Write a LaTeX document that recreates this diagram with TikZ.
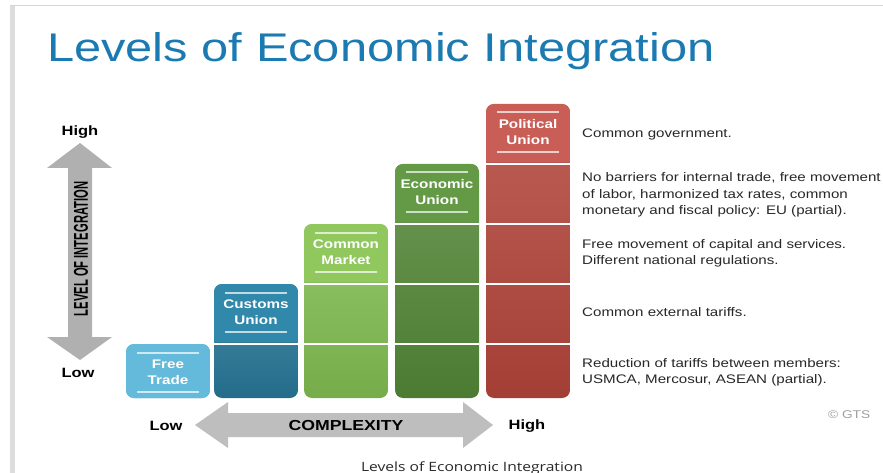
\documentclass[tikz,border=0pt]{standalone}
\usepackage{fontspec}
\setmainfont{Liberation Sans}
\newfontfamily\capfont{Open Sans}

\definecolor{titleblue}{RGB}{28,122,178}
\definecolor{frameline}{RGB}{184,226,232}
\definecolor{framebar}{RGB}{221,221,221}
\definecolor{arrowgray}{RGB}{176,176,176}
\definecolor{arrowgrayh}{RGB}{190,190,190}
\definecolor{textgray}{RGB}{40,40,40}
\definecolor{ftHead}{RGB}{100,186,218}
\definecolor{ftBody}{RGB}{90,176,210}
\definecolor{cuHead}{RGB}{48,136,170}
\definecolor{cuBody}{RGB}{38,118,150}
\definecolor{cmHead}{RGB}{144,200,94}
\definecolor{cmBody}{RGB}{128,188,80}
\definecolor{euHead}{RGB}{100,154,70}
\definecolor{euBody}{RGB}{82,134,54}
\definecolor{puHead}{RGB}{200,94,86}
\definecolor{puBody}{RGB}{178,68,58}

% horizontally widened lettering
\newcommand\hs[1]{\scalebox{1.22}[1]{#1}}

% one level bar: #1 name, #2 left x, #3 top y, #4 head colour, #5 body colour,
% #6 first label line, #7 second label line
\newcommand\levelbar[7]{%
  \begin{scope}
    \clip[rounded corners=8pt] (#2,#3) rectangle (#2+84,398);
    \shade[top color=#5!85!white,bottom color=#5!92!black]
      (#2,#3) rectangle (#2+84,398);
    \fill[#4] (#2,#3) rectangle (#2+84,#3+58);
    \foreach \yy in {164,224,284,344}{%
      \ifdim\yy pt>\dimexpr #3pt+10pt\relax
        \draw[white,line width=1.6pt] (#2,\yy) -- (#2+84,\yy);
      \fi}
  \end{scope}
  \draw[barrule] (#2+11,#3+8.5) -- (#2+73,#3+8.5);
  \draw[barrule] (#2+11,#3+48) -- (#2+73,#3+48);
  \node[bartext] (#1) at (#2+42,#3+28) {\hs{#6}\\\hs{#7}};
}

\begin{document}
\begin{tikzpicture}[x=1pt,y=-1pt,
  barrule/.style={white,opacity=.7,line width=2pt},
  bartext/.style={text=white,align=center,inner sep=0pt,
    font=\bfseries\fontsize{12.5}{16}\selectfont},
  axislabel/.style={text=black,inner sep=0pt,anchor=base,
    font=\bfseries\fontsize{13.5}{16}\selectfont},
  desc/.style={text=textgray,inner sep=0pt,anchor=base west,
    font=\fontsize{12.4}{16.3}\selectfont}]

\useasboundingbox (0,0) rectangle (883,473);
\fill[white] (0,0) rectangle (883,473);

% page frame
\fill[framebar] (10,6) rectangle (15,473);
\draw[frameline,line width=1pt] (10,6) -- (883,6);

% title
\node[anchor=base west,inner sep=0pt,text=titleblue,
  font=\fontsize{40}{44}\selectfont] (title) at (47,62)
  {\hs{Levels of Economic Integration}};

% vertical axis arrow
\fill[arrowgray] (80,143) -- (112,168) -- (92,168) -- (92,337) -- (112,337)
  -- (80,360) -- (47,337) -- (68,337) -- (68,168) -- (47,168) -- cycle;
\node[inner sep=0pt] (vlabel) at (81,249)
  {\rotatebox{90}{\scalebox{0.56}[1]{\fontsize{20}{20}\bfseries LEVEL OF INTEGRATION}}};
\node[axislabel] (vhigh) at (80,136) {\hs{High}};
\node[axislabel] (vlow) at (78,377) {\hs{Low}};

% horizontal axis arrow
\fill[arrowgrayh] (195,425) -- (228,402) -- (228,413) -- (463,413) -- (463,402)
  -- (493,425) -- (463,448) -- (463,437) -- (228,437) -- (228,448) -- cycle;
\node[axislabel] (hlow) at (166,430) {\hs{Low}};
\node[axislabel,font=\bfseries\fontsize{14.5}{16}\selectfont] (hmid) at (346,430)
  {\hs{COMPLEXITY}};
\node[axislabel] (hhigh) at (527,429) {\hs{High}};

% level bars
\levelbar{ft}{126}{344}{ftHead}{ftBody}{Free}{Trade}
\levelbar{cu}{214}{284}{cuHead}{cuBody}{Customs}{Union}
\levelbar{cm}{304}{224}{cmHead}{cmBody}{Common}{Market}
\levelbar{eu}{395}{164}{euHead}{euBody}{Economic}{Union}
\levelbar{pu}{486}{104}{puHead}{puBody}{Political}{Union}

% descriptions
\node[desc] (d5) at (582,138) {\hs{Common government.}};
\node[desc] (d4) at (582,182) {\hs{\begin{tabular}[t]{@{}l@{}}No barriers for internal trade, free movement\\
  of labor, harmonized tax rates, common\\
  monetary and fiscal policy: EU (partial).\end{tabular}}};
\node[desc] (d3) at (582,248) {\hs{\begin{tabular}[t]{@{}l@{}}Free movement of capital and services.\\
  Different national regulations.\end{tabular}}};
\node[desc] (d2) at (582,316) {\hs{Common external tariffs.}};
\node[desc] (d1) at (582,367) {\hs{\begin{tabular}[t]{@{}l@{}}Reduction of tariffs between members:\\
  USMCA, Mercosur, ASEAN (partial).\end{tabular}}};

\node[desc,text=gray!75,font=\fontsize{11.2}{13}\selectfont] (copy) at (828,418)
  {\hs{© GTS}};

% caption
\node[anchor=base,inner sep=0pt,text=textgray,
  font=\capfont\fontsize{12.8}{14}\selectfont] (caption) at (472,471)
  {\hs{Levels of Economic Integration}};
\end{tikzpicture}
\end{document}
